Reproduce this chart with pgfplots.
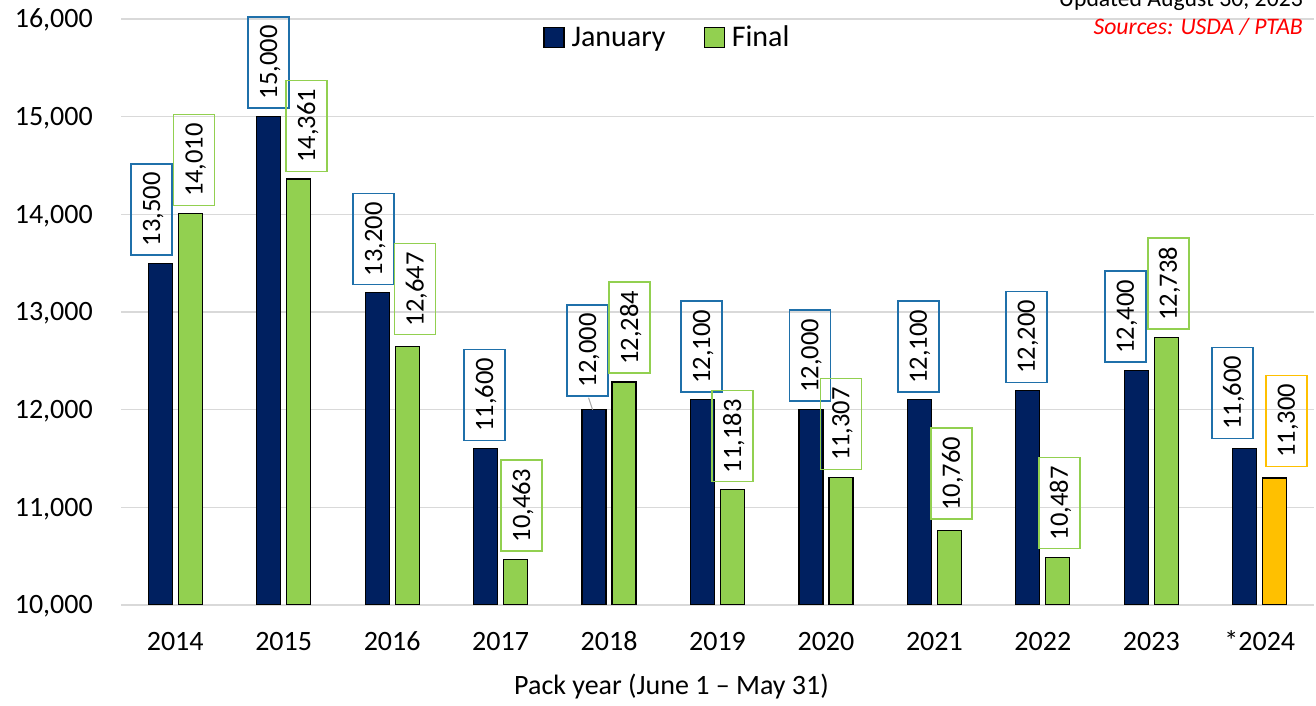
\documentclass[border=0pt]{standalone}
\usepackage{fontspec}
\setmainfont{Carlito}
\usepackage{pgfplots}
\usepackage{pgfplotstable}
\pgfplotsset{compat=1.18}
\definecolor{navy}{HTML}{002060}
\definecolor{lgreen}{HTML}{92D050}
\definecolor{gold}{HTML}{FFC000}
\definecolor{boxblue}{RGB}{31,112,170}
\definecolor{gridgray}{HTML}{D9D9D9}

\pgfplotstableread{
x jan dx dy
0 13500 -8.5 7.6
1 15000 0 8
2 13200 -3.5 7
3 11600 -1 7.7
4 12000 -6.5 13
5 12100 -1 7
6 12000 -1 7.7
7 12100 -1 7
8 12200 -1.5 7
9 12400 -11 7.6
10 11600 -12.5 9.6
}\jantable

\pgfplotstableread{
x fin dx dy
0 14010 4 7
1 14361 8 7
2 12647 8 11
3 10463 6 8
4 12284 5.5 8
5 11183 0 7
6 11307 0 7
7 10760 2 10.8
8 10487 1.5 8
9 12738 2 7.6
}\fintable

\pgfplotstableread{
x fin dx dy
10 11300 11.5 11
}\prelimtable

\tikzset{
  lbox/.style={draw=#1, line width=1.5pt, inner sep=0pt,
    minimum width=91pt, minimum height=41pt, text height=17pt, text depth=0pt,
    font=\fontsize{26.5}{30}\selectfont, text=black}
}

\begin{document}
\begin{tikzpicture}
\begin{axis}[
  name=ax,
  scale only axis,
  width=1193pt, height=586pt,
  xmin=-0.5, xmax=10.5,
  ymin=10000, ymax=16000,
  ytick={10000,11000,...,16000},
  xtick={0,...,10},
  xticklabels={2014,2015,2016,2017,2018,2019,2020,2021,2022,2023,*2024},
  scaled y ticks=false,
  axis line style={draw=none},
  major tick length=0pt,
  ymajorgrids,
  grid style={draw=gridgray, line width=1.3pt},
  clip mode=individual,
  ybar,
  bar width=24pt,
  yticklabel style={anchor=east, inner sep=0pt, xshift=-28pt, text height=17.7pt, text depth=0pt, font=\fontsize{28}{34}\selectfont},
  xticklabel style={anchor=north, inner sep=0pt, yshift=-28pt, text height=17.7pt, text depth=0pt, font=\fontsize{28}{34}\selectfont},
  xlabel={Pack year (June 1 – May 31)},
  xlabel style={at={(axis description cs:0.5,0)}, anchor=base, yshift=-90pt, xshift=-46pt, inner sep=0pt, font=\fontsize{28}{34}\selectfont},
  legend style={at={(axis description cs:0.458,0.969)}, anchor=center, draw=none, fill=none,
    legend columns=2, font=\fontsize{30}{36}\selectfont,
    /tikz/every odd column/.append style={column sep=5pt},
    /tikz/every even column/.append style={column sep=36pt}},
  legend image code/.code={\draw[#1,/tikz/.cd,yshift=-10pt] (0pt,0pt) rectangle (20pt,20pt);},
  /pgf/number format/1000 sep={,},
  /pgf/number format/assume math mode=true,
]
\addplot[fill=navy, draw=black, line width=1.2pt, bar shift=-15pt,
  visualization depends on={\thisrow{dx} \as \labdx},
  visualization depends on={\thisrow{dy} \as \labdy},
  nodes near coords,
  nodes near coords style={/pgf/number format/fixed, /pgf/number format/1000 sep={,}},
  every node near coord/.append style={xshift=\labdx*1pt, yshift=\labdy*1pt, rotate=90, anchor=west, lbox=boxblue}
] table[x=x, y=jan] {\jantable};
\addlegendentry{January}
\addplot[fill=lgreen, draw=black, line width=1.2pt, bar shift=15pt,
  visualization depends on={\thisrow{dx} \as \labdx},
  visualization depends on={\thisrow{dy} \as \labdy},
  nodes near coords,
  nodes near coords style={/pgf/number format/fixed, /pgf/number format/1000 sep={,}},
  every node near coord/.append style={xshift=\labdx*1pt, yshift=\labdy*1pt, rotate=90, anchor=west, lbox=lgreen}
] table[x=x, y=fin] {\fintable};
\addlegendentry{Final}
\addplot[fill=gold, draw=black, line width=1.2pt, bar shift=15pt, forget plot,
  visualization depends on={\thisrow{dx} \as \labdx},
  visualization depends on={\thisrow{dy} \as \labdy},
  nodes near coords,
  nodes near coords style={/pgf/number format/fixed, /pgf/number format/1000 sep={,}},
  every node near coord/.append style={xshift=\labdx*1pt, yshift=\labdy*1pt, rotate=90, anchor=west, lbox=gold}
] table[x=x, y=fin] {\prelimtable};
\draw[gray!70, line width=1pt] (axis cs:4,12000) ++(-16.5pt,0pt) -- ++(-4pt,12pt);
\end{axis}
\node[anchor=base east, inner sep=0pt, font=\fontsize{23.7}{28}\selectfont] at ([shift={(-11pt,12pt)}]ax.north east) {Updated August 30, 2023};
\node[anchor=base east, inner sep=0pt, text=red, font=\fontsize{23.7}{28}\selectfont\itshape] at ([shift={(-11pt,-16pt)}]ax.north east) {Sources: USDA / PTAB};
\pgfresetboundingbox
\path[use as bounding box] ([shift={(-121pt,-101pt)}]ax.south west) rectangle ([shift={(2pt,19pt)}]ax.north east);
\end{tikzpicture}
\end{document}
